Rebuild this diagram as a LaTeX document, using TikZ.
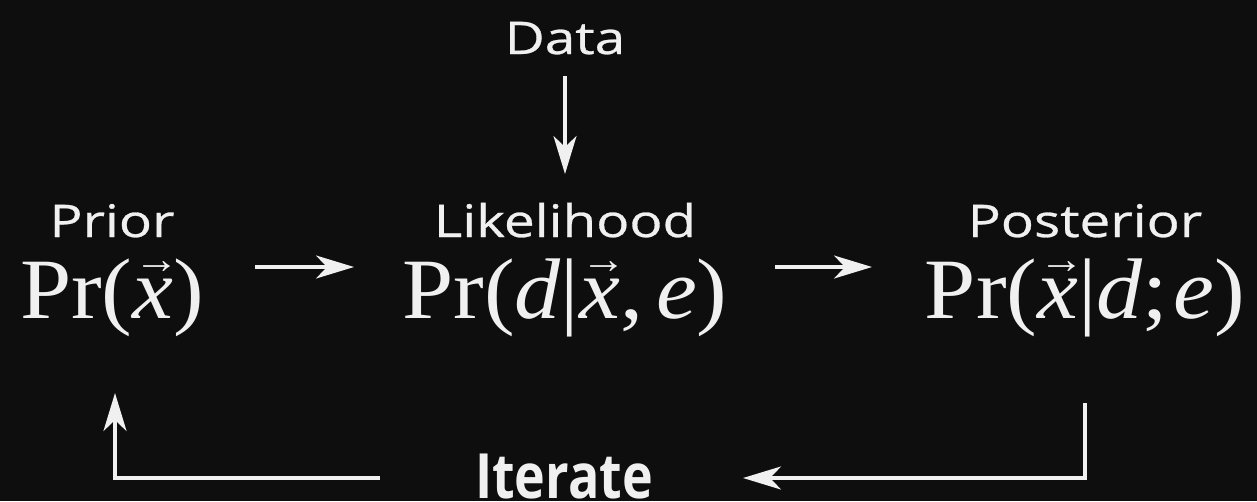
\documentclass[tikz,border=0pt]{standalone}
\usepackage{fontspec}
\setmainfont{Open Sans}
\newfontfamily\labfont[FakeBold=0.6]{Open Sans}
\newfontfamily\eqfont{Liberation Serif}
\usetikzlibrary{arrows.meta}
\definecolor{bg}{HTML}{0E0E0E}
\definecolor{fg}{HTML}{F0F0F0}
\newcommand\myvx{\leavevmode\setbox0\hbox{\itshape x}\rlap{\hbox to\wd0{\hss\kern7pt\raise0.52em\hbox{\fontsize{42}{42}\selectfont →}\hss}}\box0}
\newcommand\myit[1]{{\itshape #1}}
\newcommand\wide[1]{\scalebox{1.22}[1]{#1}}
\newcommand\eqwide[1]{\scalebox{1.07}[1]{#1}}
\begin{document}
\begin{tikzpicture}[x=1pt,y=-1pt,
  lab/.style={text=fg,anchor=base,inner sep=0pt,font=\labfont\fontsize{45}{54}\selectfont},
  eq/.style={text=fg,anchor=base,inner sep=0pt,font=\eqfont\fontsize{86}{96}\selectfont},
  arr/.style={draw=fg,line width=3.2pt,-{Stealth[length=38pt,width=23pt,inset=11pt]}}]
\fill[bg] (0,0) rectangle (1257,501);
\useasboundingbox (0,0) rectangle (1257,501);
\node[lab] (data) at (565,54) {\wide{Data}};
\node[lab] (priorlab) at (112,237) {\wide{Prior}};
\node[lab] (liklab) at (565,237) {\wide{Likelihood}};
\node[lab] (postlab) at (1085,237) {\wide{Posterior}};
\node[eq] (prior) at (112,318) {\eqwide{Pr(\myvx)}};
\node[eq] (lik) at (565,318) {\eqwide{Pr(\myit{d}|\myvx,\kern12pt\myit{e})}};
\node[eq] (post) at (1085,318) {\eqwide{Pr(\myvx|\myit{d};\kern5pt\myit{e})}};
\node[text=fg,anchor=base,inner sep=0pt,font=\bfseries\fontsize{52}{60}\selectfont] (iter) at (564,498) {\scalebox{1}[1.2]{Iterate}};
% connector end points
\coordinate (d1) at (565,76);
\coordinate (d2) at (565,174);
\coordinate (a1s) at (255,267);
\coordinate (a1e) at (354,267);
\coordinate (a2s) at (775,267);
\coordinate (a2e) at (872,267);
\coordinate (r1) at (1085,403);
\coordinate (r2) at (743,478);
\coordinate (l1) at (380,478);
\coordinate (l2) at (115,393);
\draw[arr] (d1) -- (d2);
\draw[arr] (a1s) -- (a1e);
\draw[arr] (a2s) -- (a2e);
\draw[arr] (r1) |- (r2);
\draw[arr] (l1) -| (l2);
\end{tikzpicture}
\end{document}
